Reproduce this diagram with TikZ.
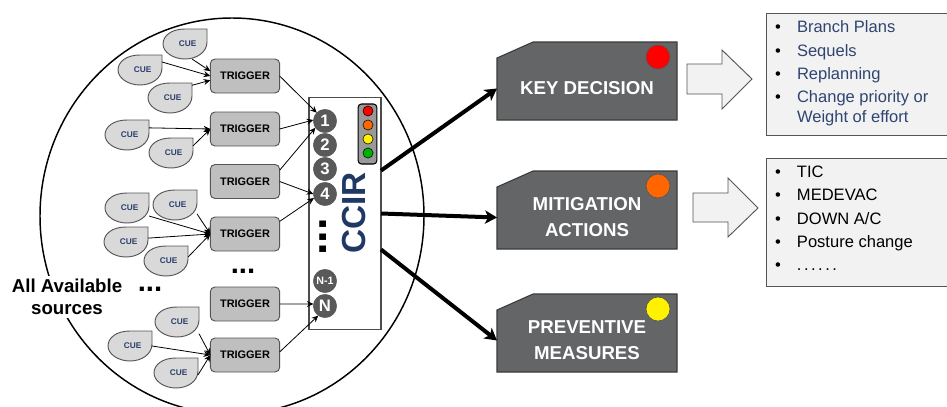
\documentclass[tikz,border=0pt]{standalone}
\usepackage{fontspec}
\setmainfont{Liberation Sans}
\usetikzlibrary{arrows.meta,calc}
\definecolor{navy}{HTML}{1F3864}
\definecolor{cuetext}{HTML}{2A3F6B}
\definecolor{listblue}{HTML}{2F4570}
\definecolor{cardgray}{HTML}{636567}
\definecolor{cardedge}{HTML}{3A3A3A}
\definecolor{softfill}{HTML}{F2F2F2}
\definecolor{softedge}{HTML}{555555}
\definecolor{numgray}{HTML}{595959}
\definecolor{lamporange}{HTML}{FF6600}
\definecolor{trigfill}{HTML}{BFBFBF}
\definecolor{cuefill}{HTML}{D9D9D9}
\tikzset{
  x=0.75pt,y=-0.75pt,
  cueshape/.style={draw=softedge,fill=cuefill,line width=0.7pt},
  cuenode/.style={minimum width=33pt,minimum height=22.5pt,inner sep=0pt,outer sep=0pt,text=cuetext,
     font=\bfseries\fontsize{6.2pt}{7pt}\selectfont},
  trig/.style={draw=softedge,fill=trigfill,rounded corners=3.5pt,line width=0.7pt,minimum width=52pt,minimum height=25.5pt,
     inner sep=0pt,outer sep=0pt,font=\bfseries\fontsize{8.2pt}{10pt}\selectfont},
  num/.style={circle,fill=numgray,draw=softedge,line width=0.3pt,text=white,minimum size=17.5pt,inner sep=0pt,outer sep=0pt,
     font=\bfseries\fontsize{12.5pt}{14pt}\selectfont},
  thin arrow/.style={draw=black,line width=0.6pt,-{Stealth[length=5pt,width=4.5pt]}},
  thick arrow/.style={draw=black,line width=3pt,-{Stealth[length=9pt,width=10pt,inset=2.5pt]}},
  card/.style={draw=cardedge,fill=cardgray,line width=0.8pt},
  cardlabel/.style={minimum width=135pt,minimum height=58pt,inner sep=0pt,outer sep=0pt,text=white,align=center,
     font=\bfseries\fontsize{14pt}{19.5pt}\selectfont},
  softbox/.style={draw=softedge,fill=softfill,line width=0.7pt},
  item/.style={anchor=base west,inner sep=0pt,outer sep=0pt,font=\fontsize{12.4pt}{14pt}\selectfont},
  light/.style={circle,draw=black,line width=0.4pt,minimum size=7.6pt,inner sep=0pt},
  lamp/.style={circle,draw=softedge,line width=0.5pt,minimum size=18pt,inner sep=0pt},
  dotsbig/.style={inner sep=0pt,outer sep=0pt,anchor=base,font=\bfseries\fontsize{22pt}{24pt}\selectfont},
}
\newcommand{\mycue}[3]{%
  \begin{scope}[shift={(#2,#3)}]
    \draw[cueshape] (22,-15) -- (0,-15) .. controls (-14,-15) and (-22,-8) .. (-22,0)
       .. controls (-22,8) and (-12,15) .. (0,15) .. controls (12,15) and (22,8) .. (22,-2) -- cycle;
    \node[cuenode] (#1) at (0,0) {\hspace*{4pt}CUE};
  \end{scope}}
\newcommand{\mycard}[5]{% name, top, bottom, lamp colour, text
  \draw[card] (497,#2+16) -- (533,#2) -- (677,#2) -- (677,#3) -- (497,#3) -- cycle;
  \node[cardlabel] (#1) at (587,{(#2+#3)/2+7.5}) {#5};
  \node[lamp,fill=#4] (#1lamp) at (658,#2+15) {};}
\begin{document}
\begin{tikzpicture}
\useasboundingbox (0,0) rectangle (947,407);
\fill[white] (0,0) rectangle (947,407);
% big circle
\draw[black,line width=1.1pt] (232,216) ellipse [x radius=192,y radius=198];
\node[fill=white,inner sep=2pt,align=center,font=\bfseries\fontsize{14pt}{16.5pt}\selectfont] (sources) at (67,297) {All Available\\sources};
% cues
\mycue{c1}{185}{44}
\mycue{c2}{140}{70}
\mycue{c3}{170}{98}
\mycue{c4}{127}{135}
\mycue{c5}{171}{153}
\mycue{c6}{127}{208}
\mycue{c7}{175}{205}
\mycue{c8}{126}{242}
\mycue{c9}{166}{261}
\mycue{c10}{177}{322}
\mycue{c11}{130}{346}
\mycue{c12}{176}{373}
% triggers
\node[trig] (t1) at (245,76) {TRIGGER};
\node[trig] (t2) at (245,129) {TRIGGER};
\node[trig] (t3) at (245,181.5) {TRIGGER};
\node[trig] (t4) at (245,234) {TRIGGER};
\node[trig] (t5) at (245,304) {TRIGGER};
\node[trig] (t6) at (245,355) {TRIGGER};
% CCIR panel
\node[draw=black!70,fill=white,line width=0.9pt,minimum width=54pt,minimum height=173.5pt,inner sep=0pt,outer sep=0pt] (ccir) at (345,213.5) {};
\node[rotate=90,text=navy,inner sep=0pt,font=\bfseries\fontsize{25pt}{27pt}\selectfont] (ccirtext) at (354,213) {CCIR};
\node[num] (n1) at (325,121) {1};
\node[num] (n2) at (325,145) {2};
\node[num] (n3) at (325,169) {3};
\node[num] (n4) at (325,194) {4};
\node[num,font=\bfseries\fontsize{8pt}{9pt}\selectfont] (nm) at (325,281) {N-1};
\node[num] (nn) at (325,306) {N};
% traffic light
\node[draw=black,fill=black!40!white,rounded corners=2.5pt,line width=0.8pt,minimum width=14pt,minimum height=45pt,inner sep=0pt] (tl) at (367.5,134) {};
\node[light,fill=red] (l1) at (368,111) {};
\node[light,fill=lamporange] (l2) at (368,125) {};
\node[light,fill=yellow] (l3) at (368,139) {};
\node[light,fill=green!70!black] (l4) at (368,153) {};
% dots
\node[dotsbig] (d1) at (150,291) {...};
\node[dotsbig] (d2) at (243,273) {...};
\node[dotsbig,rotate=90,anchor=base,font=\bfseries\fontsize{34pt}{36pt}\selectfont] (d3) at (326,237) {...};
% cue connectors
\draw[thin arrow] (c1.-65) -- (t1.172);
\draw[thin arrow] (c2.20) -- (t1.west);
\draw[thin arrow] (c3.30) -- (t1.187);
\draw[thin arrow] (c4.18) -- (t2.west);
\draw[thin arrow] (c5.18) -- (t2.west);
\draw[thin arrow] (c6.-20) -- (t4.west);
\draw[thin arrow] (c7.-22) -- (t4.west);
\draw[thin arrow] (c8.10) -- (t4.west);
\draw[thin arrow] (c9.10) -- (t4.west);
\draw[thin arrow] (c10.-28) -- (t6.west);
\draw[thin arrow] (c11.0) -- (t6.west);
\draw[thin arrow] (c12.-5) -- (t6.west);
% trigger connectors
\draw[thin arrow] (t1.east) -- (n1.135);
\draw[thin arrow] (t2.east) -- (n1.175);
\draw[thin arrow] (t3.18) -- (n1.215);
\draw[thin arrow] (t3.east) -- (n4.180);
\draw[thin arrow] (t4.20) -- (n4.200);
\draw[thin arrow] (t5.east) -- (nn.170);
\draw[thin arrow] (t6.5) -- (nn.235);
% cards
\mycard{k}{42}{120}{red}{KEY DECISION}
\mycard{m}{171}{249}{lamporange}{MITIGATION\\ACTIONS}
\mycard{p}{294}{372}{yellow}{PREVENTIVE\\MEASURES}
% thick arrows
\draw[thick arrow] (ccir.50) -- (k.west);
\draw[thick arrow] (ccir.east) -- (m.west);
\draw[thick arrow] (ccir.-45) -- (p.west);
% block arrows
\draw[softbox] (687,64) -- (722,64) -- (722,50) -- (752,79) -- (722,109) -- (722,94) -- (687,94) -- cycle;
\draw[softbox] (693,193) -- (728,193) -- (728,178) -- (758,208) -- (728,237) -- (728,222) -- (693,222) -- cycle;
% lists
\draw[softbox] (766,13) rectangle (960,135);
\draw[softbox] (766,158) rectangle (960,286);
\begin{scope}[text=listblue]
\node[item] (i1) at (775,32) {\makebox[16.5pt][l]{\textcolor{black}{•}}Branch Plans};
\node[item] (i2) at (775,56) {\makebox[16.5pt][l]{\textcolor{black}{•}}Sequels};
\node[item] (i3) at (775,79) {\makebox[16.5pt][l]{\textcolor{black}{•}}Replanning};
\node[item] (i4) at (775,102) {\makebox[16.5pt][l]{\textcolor{black}{•}}Change priority or};
\node[item] (i5) at (797,122) {Weight of effort};
\end{scope}
\node[item] (j1) at (775,177) {\makebox[16.5pt][l]{•}TIC};
\node[item] (j2) at (775,200) {\makebox[16.5pt][l]{•}MEDEVAC};
\node[item] (j3) at (775,224) {\makebox[16.5pt][l]{•}DOWN A/C};
\node[item] (j4) at (775,247) {\makebox[16.5pt][l]{•}Posture change};
\node[item] (j5) at (775,270) {\makebox[16.5pt][l]{•}\addfontfeatures{LetterSpace=15}\fontsize{12.4pt}{14pt}\selectfont ......};
\end{tikzpicture}
\end{document}
